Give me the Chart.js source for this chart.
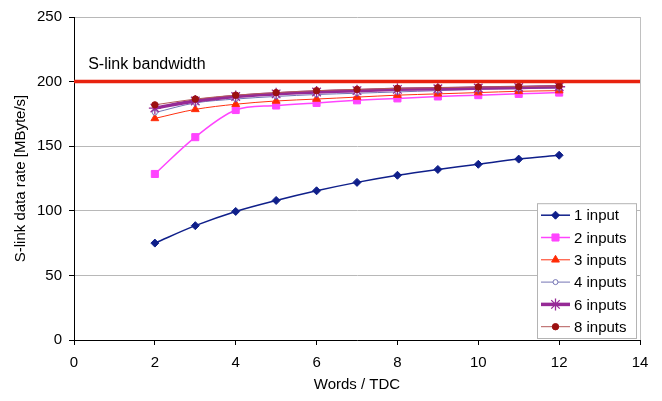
<!DOCTYPE html>
<html lang="en">
<head>
    <meta charset="UTF-8">
    <title>S-link data rate</title>
    <script src="https://cdn.jsdelivr.net/npm/chart.js@4.4.0/dist/chart.umd.min.js"></script>
    <style>
        * { margin: 0; padding: 0; box-sizing: border-box; }
        body { background: #ffffff; width: 662px; height: 401px; overflow: hidden; }
        .chart-container { position: relative; width: 662px; height: 401px; }
    </style>
</head>
<body>
    <div class="chart-container">
        <canvas id="rateChart" width="662" height="401"></canvas>
    </div>

    <script>
        // Values
        const wordsPerTdc = [2, 3, 4, 5, 6, 7, 8, 9, 10, 11, 12];
        const input1 = [75, 88.5, 99.5, 108, 115.5, 122, 127.5, 132, 136, 140, 143];
        const input2 = [128.5, 157, 178, 181.5, 183.5, 185.5, 187, 188.5, 189.5, 190.5, 191.5];
        const input3 = [171.5, 178.5, 182.5, 185, 186.5, 188, 189.5, 190.5, 191.5, 192.5, 193];
        const input4 = [176, 183.5, 186.5, 188.5, 190, 191, 192, 193, 194, 194.5, 195];
        const input6 = [179.5, 185, 188.5, 190.5, 192, 193, 194, 194.5, 195, 195.5, 196];
        const input8 = [182, 186.5, 189.5, 191.5, 193, 194, 194.8, 195.3, 195.8, 196.2, 196.6];
        const bandwidthX = [0, 14];
        const bandwidth = 200;
        const bandwidthLabel = 'S-link bandwidth';
        const xTicks = [0, 2, 4, 6, 8, 10, 12, 14];
        const yTicks = [0, 50, 100, 150, 200, 250];

        const FONT = "Arial, 'Liberation Sans', Helvetica, sans-serif";
        Chart.defaults.font.family = FONT;
        Chart.defaults.color = '#000000';

        const toPoints = vals => vals.map((v, i) => ({ x: wordsPerTdc[i], y: v }));

        function series(label, vals, style) {
            return Object.assign({
                label: label,
                data: toPoints(vals),
                tension: 0.33,
                borderWidth: 1,
                pointBorderWidth: 1,
                showInLegend: true
            }, style);
        }

        const datasets = [
            series('1 input', input1, {
                borderColor: '#0f1f8a', backgroundColor: '#0f1f8a',
                borderWidth: 1.5, pointStyle: 'rectRot', pointRadius: 4, order: 6
            }),
            series('2 inputs', input2, {
                borderColor: '#ff44ff', backgroundColor: '#ff44ff',
                borderWidth: 1.5, pointStyle: 'rect', pointRadius: 5, order: 5
            }),
            series('3 inputs', input3, {
                borderColor: '#ff3010', backgroundColor: '#ff2a00',
                pointStyle: 'triangle', pointRadius: 4.5, order: 4
            }),
            series('4 inputs', input4, {
                borderColor: '#7474b4', backgroundColor: '#ffffff',
                pointBorderColor: '#7474b4', pointStyle: 'circle', pointRadius: 2.5, order: 3
            }),
            series('6 inputs', input6, {
                borderColor: '#962a96', backgroundColor: '#962a96',
                borderWidth: 3.5, pointStyle: 'star', pointRadius: 6, pointBorderWidth: 1.3, order: 2
            }),
            series('8 inputs', input8, {
                borderColor: '#b45a5a', backgroundColor: '#9c1010',
                pointBorderColor: '#9c1010', pointStyle: 'circle', pointRadius: 3.2, order: 1
            }),
            {
                label: bandwidthLabel,
                data: bandwidthX.map(x => ({ x: x, y: bandwidth })),
                borderColor: '#e8220e',
                borderWidth: 3.5,
                pointRadius: 0,
                tension: 0,
                showInLegend: false,
                order: 0
            }
        ];

        // Legend box inside the plot area, bottom right, Excel style
        const boxLegend = {
            id: 'boxLegend',
            afterDraw(chart) {
                const ctx = chart.ctx;
                const area = chart.chartArea;
                const items = chart.data.datasets.filter(d => d.showInLegend);
                const rowH = 22.3;
                const w = 99, h = items.length * rowH + 1;
                const left = area.right - 4 - w;
                const top = area.bottom - 2 - h;

                ctx.save();
                ctx.fillStyle = '#ffffff';
                ctx.fillRect(left, top, w, h);
                ctx.strokeStyle = '#b4b4b4';
                ctx.lineWidth = 1;
                ctx.strokeRect(left + 0.5, top + 0.5, w, h);

                ctx.font = '15px ' + FONT;
                ctx.textBaseline = 'middle';
                items.forEach((d, i) => {
                    const y = top + 12 + i * rowH;
                    const x0 = left + 4, x1 = left + 33;
                    ctx.strokeStyle = d.borderColor;
                    ctx.lineWidth = d.borderWidth;
                    ctx.beginPath();
                    ctx.moveTo(x0, y);
                    ctx.lineTo(x1, y);
                    ctx.stroke();

                    ctx.fillStyle = d.backgroundColor;
                    ctx.strokeStyle = d.pointBorderColor || d.borderColor;
                    ctx.lineWidth = d.pointBorderWidth;
                    Chart.helpers.drawPoint(ctx, {
                        pointStyle: d.pointStyle,
                        radius: d.pointRadius,
                        rotation: 0,
                        borderWidth: d.pointBorderWidth
                    }, (x0 + x1) / 2, y);

                    ctx.fillStyle = '#000000';
                    ctx.textAlign = 'left';
                    ctx.fillText(d.label, x1 + 4, y + 1);
                });
                ctx.restore();
            }
        };

        // Text label above the bandwidth line, plus the grey frame on the right
        const bandwidthText = {
            id: 'bandwidthText',
            afterDatasetsDraw(chart) {
                const ctx = chart.ctx;
                const xs = chart.scales.x, ys = chart.scales.y;
                const area = chart.chartArea;
                ctx.save();
                ctx.strokeStyle = '#c0c0c0';
                ctx.lineWidth = 1;
                ctx.beginPath();
                ctx.moveTo(area.right + 0.5, area.top);
                ctx.lineTo(area.right + 0.5, area.bottom);
                ctx.stroke();

                ctx.font = '16px ' + FONT;
                ctx.fillStyle = '#000000';
                ctx.textAlign = 'left';
                ctx.textBaseline = 'alphabetic';
                ctx.fillText(bandwidthLabel, xs.getPixelForValue(0.35), ys.getPixelForValue(bandwidth) - 13);
                ctx.restore();
            }
        };

        new Chart(document.getElementById('rateChart'), {
            type: 'line',
            data: { datasets: datasets },
            plugins: [bandwidthText, boxLegend],
            options: {
                responsive: false,
                animation: false,
                layout: { padding: { top: 17, right: 22, left: 0, bottom: 0 } },
                plugins: {
                    legend: { display: false },
                    tooltip: { enabled: false }
                },
                scales: {
                    x: {
                        type: 'linear',
                        min: 0,
                        max: 14,
                        afterBuildTicks: s => { s.ticks = xTicks.map(v => ({ value: v })); },
                        afterFit: s => { s.height = 61; },
                        border: { color: '#000000', width: 1 },
                        grid: { drawOnChartArea: false, drawTicks: true, tickLength: 5, tickColor: '#000000' },
                        ticks: { font: { size: 15 }, color: '#000000', padding: 9, maxRotation: 0 },
                        title: {
                            display: true,
                            text: 'Words / TDC',
                            font: { size: 15 },
                            color: '#000000',
                            padding: { top: 2, bottom: 7 }
                        }
                    },
                    y: {
                        min: 0,
                        max: 250,
                        afterBuildTicks: s => { s.ticks = yTicks.map(v => ({ value: v })); },
                        afterFit: s => { s.width = 74; },
                        border: { color: '#000000', width: 1 },
                        grid: { color: '#b8b8b8', tickColor: '#000000', tickLength: 5, lineWidth: 1 },
                        ticks: { font: { size: 15 }, color: '#000000', padding: 7 },
                        title: {
                            display: true,
                            text: 'S-link data rate [MByte/s]',
                            font: { size: 15 },
                            color: '#000000',
                            padding: { top: 12, bottom: 4 }
                        }
                    }
                }
            }
        });
    </script>
</body>
</html>
